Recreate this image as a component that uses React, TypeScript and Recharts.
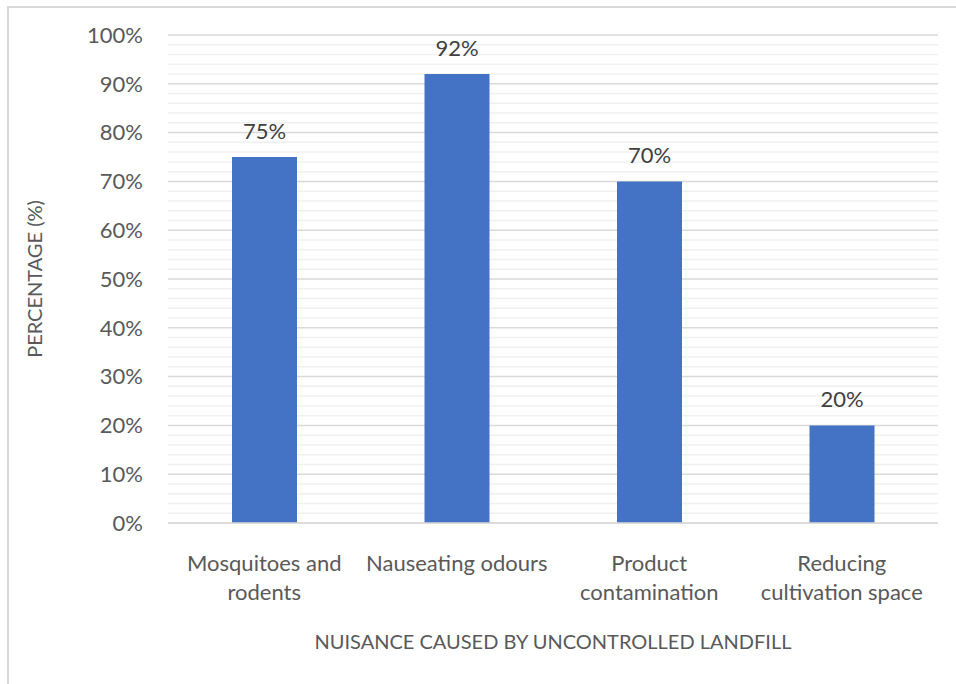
import { BarChart, Bar, XAxis, YAxis, CartesianGrid, LabelList, Label } from 'recharts';

const categories = [
  'Mosquitoes and\nrodents',
  'Nauseating odours',
  'Product\ncontamination',
  'Reducing\ncultivation space',
];
const percentages = [75, 92, 70, 20];
const yTicks = [0, 10, 20, 30, 40, 50, 60, 70, 80, 90, 100];
const minorTicks = [
  2, 4, 6, 8, 12, 14, 16, 18, 22, 24, 26, 28, 32, 34, 36, 38, 42, 44, 46, 48,
  52, 54, 56, 58, 62, 64, 66, 68, 72, 74, 76, 78, 82, 84, 86, 88, 92, 94, 96, 98,
];

const data = categories.map((name, i) => ({ name, value: percentages[i] }));

const FONT = 'Lato, Carlito, Calibri, sans-serif';
const TEXT = '#595959';
const FS = 22;
const TITLE_FS = 20;

function CategoryTick(props: any) {
  const { x, y, payload } = props;
  const lines = String(payload.value).split('\n');
  return (
    <text x={x} y={y} textAnchor="middle" fill={TEXT} fontSize={FS} fontFamily={FONT}>
      {lines.map((line, i) => (
        <tspan key={i} x={x} dy={i === 0 ? 34 : 29} dominantBaseline="middle">
          {line}
        </tspan>
      ))}
    </text>
  );
}

// minor grid positions (every 2%), using the plot offset since the domain is fixed 0..100
const minorCoords = ({ offset }: any) =>
  minorTicks.map((v) => offset.top + offset.height * (1 - v / 100));

export default function App() {
  return (
    <div style={{ position: 'absolute', left: 0, top: 0, width: 956, height: 684, overflow: 'hidden', background: '#fff' }}>
      <div
        style={{
          position: 'absolute',
          left: 7,
          top: 6,
          width: 980,
          height: 720,
          border: '2px solid #d9d9d9',
          boxSizing: 'border-box',
        }}
      />
      <div style={{ position: 'absolute', left: 0, top: 0 }}>
        <BarChart
          width={956}
          height={684}
          data={data}
          margin={{ top: 35, right: 18, left: 0, bottom: 0 }}
          barCategoryGap={0}
        >
          <CartesianGrid
            vertical={false}
            stroke="#f0f0f0"
            strokeWidth={1.5}
            horizontalCoordinatesGenerator={minorCoords}
          />
          <CartesianGrid vertical={false} stroke="#d9d9d9" strokeWidth={1.5} />
          <XAxis
            dataKey="name"
            height={161}
            axisLine={{ stroke: '#d9d9d9', strokeWidth: 1.5 }}
            tickLine={false}
            interval={0}
            tick={<CategoryTick />}
          >
            <Label
              value="NUISANCE CAUSED BY UNCONTROLLED LANDFILL"
              position="insideBottom"
              offset={35}
              fill={TEXT}
              fontSize={TITLE_FS}
              fontFamily={FONT}
            />
          </XAxis>
          <YAxis
            width={168}
            domain={[0, 100]}
            ticks={yTicks}
            interval={0}
            tickFormatter={(v: number) => `${v}%`}
            axisLine={false}
            tickLine={false}
            tickSize={0}
            tickMargin={25}
            tick={{ fill: TEXT, fontSize: FS, fontFamily: FONT }}
          >
            <Label
              value="PERCENTAGE (%)"
              angle={-90}
              position="insideLeft"
              offset={35}
              style={{ textAnchor: 'middle' }}
              fill={TEXT}
              fontSize={TITLE_FS}
              fontFamily={FONT}
            />
          </YAxis>
          <Bar dataKey="value" fill="#4472c4" barSize={65} isAnimationActive={false}>
            <LabelList
              dataKey="value"
              position="top"
              offset={18}
              formatter={(v: any) => `${v}%`}
              fill="#404040"
              fontSize={FS}
              fontFamily={FONT}
            />
          </Bar>
        </BarChart>
      </div>
    </div>
  );
}
